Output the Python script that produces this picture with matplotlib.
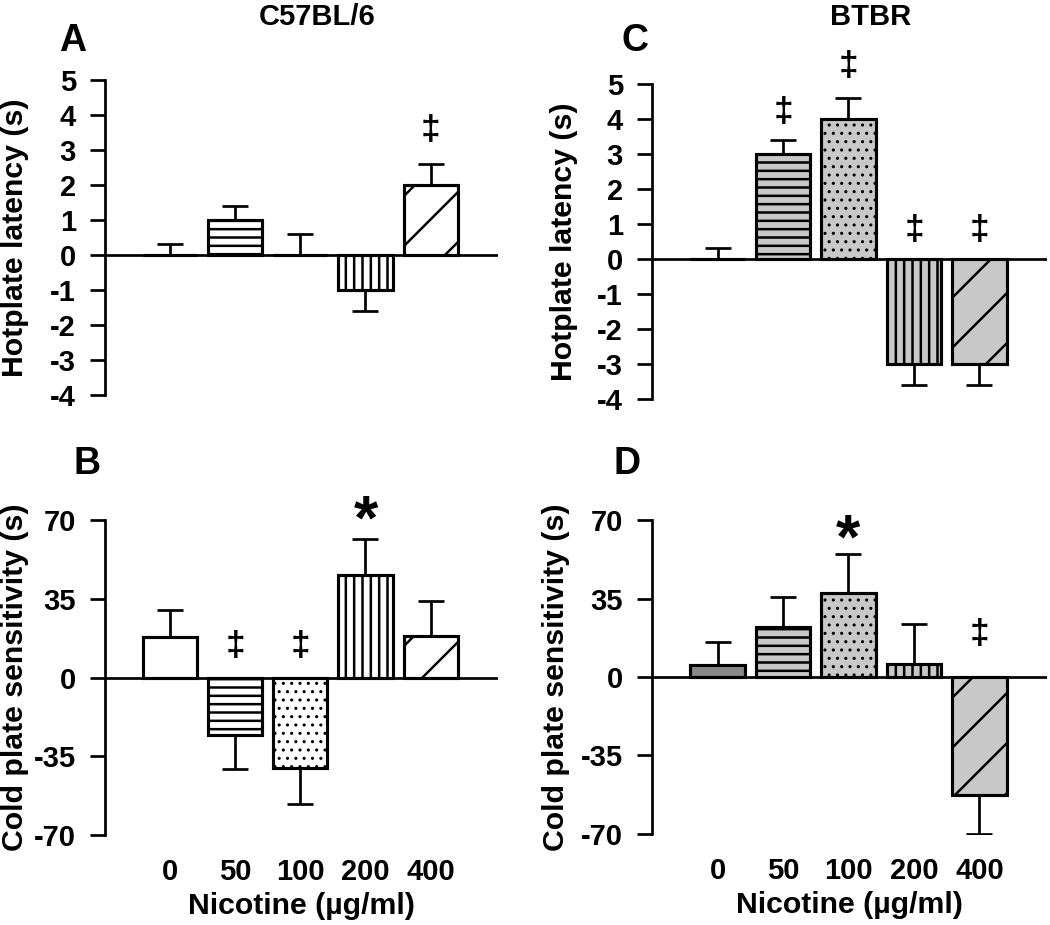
import numpy as np
import matplotlib
matplotlib.use('Agg')
import matplotlib.pyplot as plt

plt.rcParams['font.family'] = ['Liberation Sans', 'DejaVu Sans']
plt.rcParams['font.weight'] = 'bold'
plt.rcParams['hatch.linewidth'] = 1.2

# data
doses = ['0', '50', '100', '200', '400']

c57_hot = [0, 1, 0, -1, 2]
c57_hot_err = [0.3, 0.4, 0.6, 0.6, 0.6]
btbr_hot = [0, 3, 4, -3, -3]
btbr_hot_err = [0.3, 0.4, 0.6, 0.6, 0.6]

c57_cold = [18, -25.5, -40, 45.5, 18.5]
c57_cold_err = [12, 15, 16, 16, 15.5]
btbr_cold = [5.2, 22.3, 37.4, 5.8, -52.4]
btbr_cold_err = [10.2, 13.6, 17.5, 17.8, 17.4]

# significance marks: (bar index, symbol, y)
c57_hot_marks = [(4, '\u2021', 3.57)]
btbr_hot_marks = [(1, '\u2021', 4.2), (2, '\u2021', 5.5), (3, '\u2021', 0.8), (4, '\u2021', 0.8)]
c57_cold_marks = [(1, '\u2021', 13.7), (2, '\u2021', 13.7), (3, '*', 69)]
btbr_cold_marks = [(2, '*', 60.5), (4, '\u2021', 19)]

hatches = ['', '---', '...', '|||', '/']
c57_colors = ['white'] * 5
btbr_colors = ['#888888', '#c8c8c8', '#c8c8c8', '#c8c8c8', '#c8c8c8']


def draw_panel(ax, vals, errs, colors, marks, yticks, ylabel, label_x, show_x):
    x = np.arange(len(vals))
    vals = np.array(vals, dtype=float)
    errs = np.array(errs, dtype=float)
    bars = ax.bar(x, vals, width=0.83, color=colors, edgecolor='black',
                  linewidth=1.5, zorder=2)
    for b, h in zip(bars, hatches):
        b.set_hatch(h)
        if h == '...' and hasattr(b, 'set_hatch_linewidth'):
            b.set_hatch_linewidth(0.7)
    lower = np.where(vals < 0, errs, 0)
    upper = np.where(vals >= 0, errs, 0)
    ax.errorbar(x, vals, yerr=[lower, upper], fmt='none', ecolor='black',
                elinewidth=1.3, capsize=6.2, capthick=1.3, zorder=1)
    ax.axhline(0, color='black', linewidth=1.3, zorder=3)
    ax.set_xlim(-1, 5.03)
    ax.set_ylim(yticks[0], yticks[-1])
    ax.set_yticks(yticks)
    ax.set_yticklabels([str(t) for t in yticks], fontsize=14, fontweight='bold')
    for s in ['top', 'right', 'bottom']:
        ax.spines[s].set_visible(False)
    ax.spines['left'].set_linewidth(1.3)
    ax.tick_params(axis='y', length=7, width=1.3, pad=7)
    ax.set_ylabel(ylabel, fontsize=14.5, fontweight='bold')
    ax.yaxis.set_label_coords(label_x, 0.5)
    if show_x:
        ax.set_xticks(x)
        ax.set_xticklabels(doses, fontsize=14, fontweight='bold')
        ax.tick_params(axis='x', length=0, pad=11)
        ax.set_xlabel('Nicotine (\u00b5g/ml)', fontsize=14.5, fontweight='bold', labelpad=3)
    else:
        ax.set_xticks([])
    for i, sym, y in marks:
        fs = 17 if sym != '*' else 30
        ax.text(x[i], y, sym, ha='center', va='center', fontsize=fs,
                fontweight='bold', clip_on=False)


fig = plt.figure(figsize=(7, 6.1667), dpi=150)
axA = fig.add_axes([0.1, 0.573, 0.374, 0.3405])
axC = fig.add_axes([0.621, 0.569, 0.376, 0.340])
axB = fig.add_axes([0.1, 0.0973, 0.374, 0.3405])
axD = fig.add_axes([0.621, 0.0984, 0.376, 0.3394])

hot_ticks = [-4, -3, -2, -1, 0, 1, 2, 3, 4, 5]
cold_ticks = [-70, -35, 0, 35, 70]

draw_panel(axA, c57_hot, c57_hot_err, c57_colors, c57_hot_marks, hot_ticks,
           'Hotplate latency (s)', -0.193, False)
draw_panel(axC, btbr_hot, btbr_hot_err, btbr_colors, btbr_hot_marks, hot_ticks,
           'Hotplate latency (s)', -0.187, False)
draw_panel(axB, c57_cold, c57_cold_err, c57_colors, c57_cold_marks, cold_ticks,
           'Cold plate sensitivity (s)', -0.193, True)
draw_panel(axD, btbr_cold, btbr_cold_err, btbr_colors, btbr_cold_marks, cold_ticks,
           'Cold plate sensitivity (s)', -0.207, True)

fig.text(0.302, 0.997, 'C57BL/6', ha='center', va='top', fontsize=14, fontweight='bold')
fig.text(0.829, 0.997, 'BTBR', ha='center', va='top', fontsize=14, fontweight='bold')
fig.text(0.069, 0.975, 'A', ha='center', va='top', fontsize=18, fontweight='bold')
fig.text(0.605, 0.975, 'C', ha='center', va='top', fontsize=18, fontweight='bold')
fig.text(0.083, 0.518, 'B', ha='center', va='top', fontsize=18, fontweight='bold')
fig.text(0.597, 0.518, 'D', ha='center', va='top', fontsize=18, fontweight='bold')

fig.savefig('out.png', dpi=150)
